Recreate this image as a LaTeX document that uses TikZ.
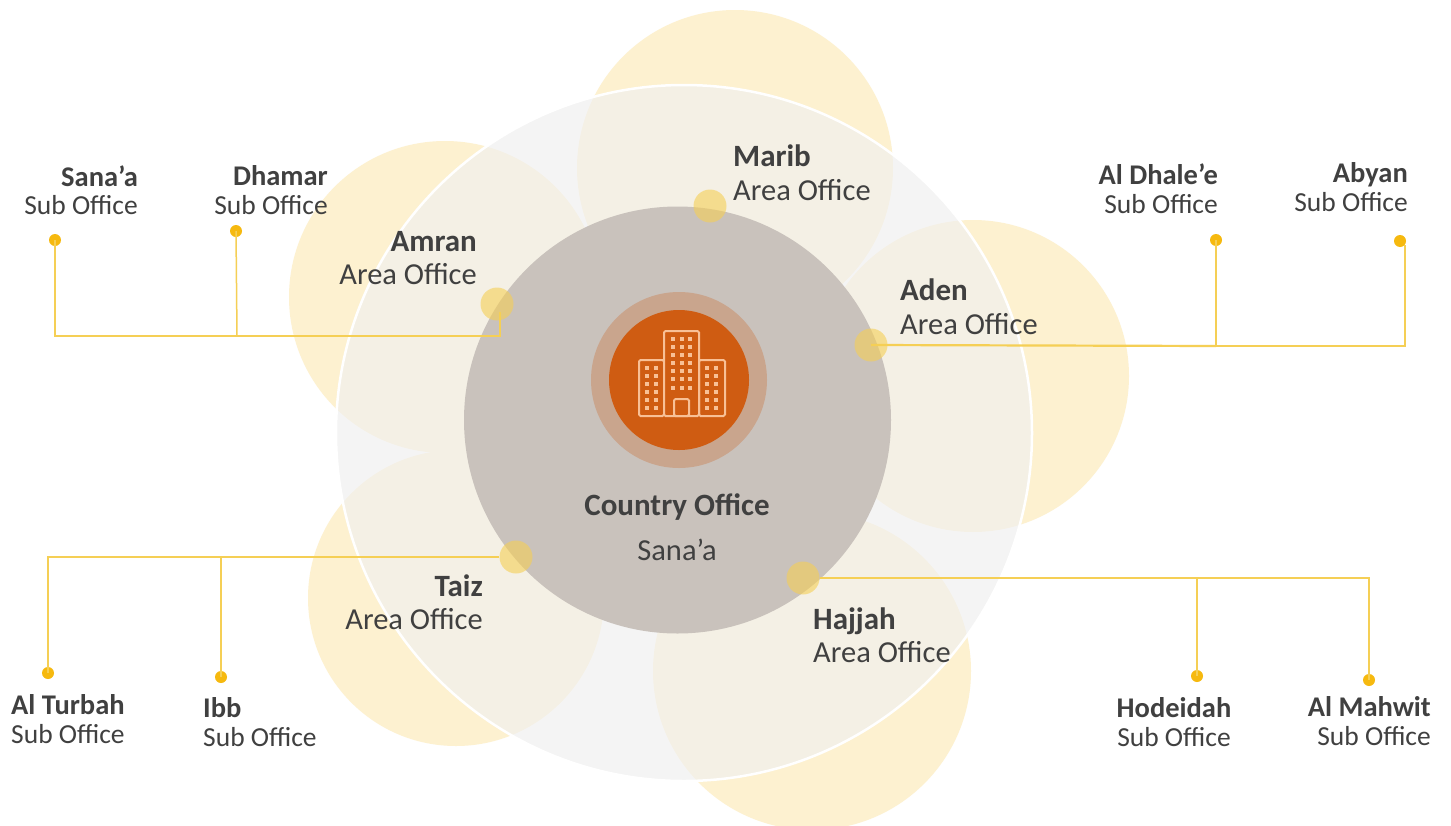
\documentclass[tikz,border=0pt]{standalone}
\usepackage{fontspec}
\setmainfont{Carlito}
\definecolor{petal}{HTML}{FDF1D0}
\definecolor{bigc}{HTML}{F0F0F0}
\definecolor{core}{HTML}{C9C2BC}
\definecolor{ringc}{HTML}{C9A58D}
\definecolor{hub}{HTML}{CF5C12}
\definecolor{iconc}{HTML}{F8C096}
\definecolor{linec}{HTML}{F5CF55}
\definecolor{dotc}{HTML}{F6B90F}
\definecolor{txt}{HTML}{404040}
\newcommand\ah[1]{{\fontsize{31}{33.5}\selectfont\bfseries #1}}
\newcommand\sh[1]{{\fontsize{28.5}{28.5}\selectfont\bfseries #1}}
\tikzset{
 x=1pt,y=-1pt,
 petalc/.style={circle,fill=petal,inner sep=0pt,minimum size=#1},
 adot/.style={circle,fill=#1,inner sep=0pt,minimum size=33pt},
 sdot/.style={circle,fill=dotc,inner sep=0pt,minimum size=12pt},
 conn/.style={draw=linec,line width=1.5pt},
 connb/.style={draw=linec,line width=2.6pt},
 lab/.style={text=txt,inner sep=0pt,align=#1,font=\fontsize{30.5}{33.5}\selectfont},
 sublab/.style={text=txt,inner sep=0pt,align=#1,font=\fontsize{27.5}{28.5}\selectfont},
 ic/.style={draw=iconc,line width=2pt,fill=hub,rounded corners=1.5pt},
 win/.style={fill=iconc,draw=none,minimum size=4.4pt,inner sep=0pt},
}
\begin{document}
\begin{tikzpicture}
\useasboundingbox (0,0) rectangle (1451,825);
\fill[white] (0,0) rectangle (1451,825);
% petals
\node[petalc=316pt] (pm) at (735,168) {};
\node[petalc=312pt] (pa) at (973,376) {};
\node[petalc=312pt] (pn) at (445,297) {};
\node[petalc=296pt] (pt) at (456,598) {};
\node[petalc=318pt] (ph) at (812,671) {};
% big circle
\node[circle,fill=bigc,fill opacity=.68,draw=white,draw opacity=1,line width=2.5pt,inner sep=0pt,minimum size=696pt] (big) at (684,433) {};
% core
\node[circle,fill=core,inner sep=0pt,minimum size=427pt] (core) at (677.5,420) {};
\node[circle,fill=ringc,inner sep=0pt,minimum size=176pt] (ring) at (679,380) {};
\node[circle,fill=hub,inner sep=0pt,minimum size=140pt] (hubn) at (679,380) {};
% icon
\draw[ic] (639,360) rectangle (664,416);
\draw[ic] (699,360) rectangle (725,416);
\draw[ic] (664,331) rectangle (699,416);
\draw[ic] (674,399) rectangle (689,416);
\foreach \x in {647,656}\foreach \y in {368,376,384,392,400,408}{\node[win] at (\x,\y) {};}
\foreach \x in {707,716}\foreach \y in {368,376,384,392,400,408}{\node[win] at (\x,\y) {};}
\foreach \x in {673,682,690}\foreach \y in {339,347,355,363,371,379,388}{\node[win] at (\x,\y) {};}
% area dots
\node[adot=linec,opacity=.6] (dmarib) at (710,206) {};
\node[adot=linec,opacity=.6] (damran) at (497,304) {};
\node[adot=linec,opacity=.6] (daden) at (871,345) {};
\node[adot=linec,opacity=.6] (dtaiz) at (516,557) {};
\node[adot=linec,opacity=.6] (dhajjah) at (803,578) {};
% sub dots
\node[sdot] (sana) at (55,240) {};
\node[sdot] (dhamar) at (236,231) {};
\node[sdot] (dhale) at (1216,240) {};
\node[sdot] (abyan) at (1400,241) {};
\node[sdot] (turbah) at (48,673) {};
\node[sdot] (ibb) at (221,677) {};
\node[sdot] (hodeidah) at (1197,676) {};
\node[sdot] (mahwit) at (1369,680) {};
% connectors
\coordinate (c0) at (500,312);
\coordinate (c1) at (500,336);
\coordinate (c2) at (55,336);
\coordinate (c3) at (237,336);
\draw[connb] (c0) -- (c1) -- (c3);
\draw[conn] (c3) -- (c2) -- (sana.center);
\draw[conn] (c3) -- (dhamar.center);
\coordinate (c4) at (1405,346);
\coordinate (c5) at (1216,346);
\coordinate (c6) at (1405,245);
\draw[connb,line width=2.2pt] (daden.center) -- (c5);
\draw[conn] (c5) -- (c4) -- (c6);
\draw[conn] (c5) -- (dhale.center);
\coordinate (c7) at (48,557);
\coordinate (c8) at (221,557);
\draw[connb] (dtaiz.west) -- (c8);
\draw[conn] (c8) -- (c7) -- (turbah.center);
\draw[conn] (c8) -- (ibb.center);
\coordinate (c9) at (1369,578);
\coordinate (c10) at (1197,578);
\draw[conn] (dhajjah.east) -- (c9) -- (mahwit.center);
\draw[conn] (c10) -- (hodeidah.center);
% labels
\node[lab=left,anchor=north west] (lmarib) at (733,145) {\ah{Marib}\\Area Office};
\node[lab=right,anchor=north east] (lamran) at (477,231) {\ah{Amran}\\Area Office};
\node[lab=left,anchor=north west] (laden) at (900,279) {\ah{Aden}\\Area Office};
\node[lab=right,anchor=north east] (ltaiz) at (483,574.5) {\ah{Taiz}\\Area Office};
\node[lab=left,anchor=north west] (lhajjah) at (813,607.5) {\ah{Hajjah}\\Area Office};
\node[lab=center,anchor=center] (lc) at (677,507) {\ah{Country Office}};
\node[lab=center,anchor=center,font=\fontsize{30.5}{34}\selectfont] (ls) at (677,550) {Sana’a};
\node[sublab=right,anchor=north east] at (138,165.5) {\sh{Sana’a}\\Sub Office};
\node[sublab=right,anchor=north east] at (328,165.5) {\sh{Dhamar}\\Sub Office};
\node[sublab=right,anchor=north east] at (1218,164) {\sh{Al Dhale’e}\\Sub Office};
\node[sublab=right,anchor=north east] at (1408,162.5) {\sh{Abyan}\\Sub Office};
\node[sublab=left,anchor=north west] at (11,694.5) {\sh{Al Turbah}\\Sub Office};
\node[sublab=left,anchor=north west] at (203,697.5) {\sh{Ibb}\\Sub Office};
\node[sublab=center,anchor=north] at (1174,697.5) {\sh{Hodeidah}\\Sub Office};
\node[sublab=right,anchor=north east] at (1431,696.5) {\sh{Al Mahwit}\\Sub Office};
\end{tikzpicture}
\end{document}
